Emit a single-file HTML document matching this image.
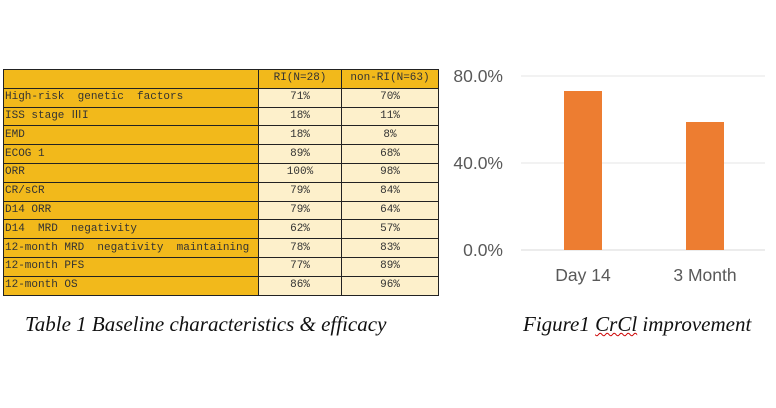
<!DOCTYPE html>
<html><head><style>
body{margin:0;width:776px;height:408px;background:#fff;position:relative;overflow:hidden}
table{position:absolute;left:3px;top:69px;border-collapse:collapse;font-family:"Liberation Mono","Noto Sans CJK SC",monospace;font-size:11px;color:#333;table-layout:fixed;width:436px}
td{height:17.8px;padding:0 1px;border:1.2px solid #222;line-height:17px;white-space:pre;overflow:hidden}
td.a{background:#f2b91b;width:252px}
td.b{background:#fdf0cb;text-align:center;width:80px}
td.c{background:#fdf0cb;text-align:center}
tr.h td{background:#f2b91b}
.cap{position:absolute;font-family:"Liberation Serif",serif;font-style:italic;font-size:21px;color:#111;white-space:nowrap}
.yl{position:absolute;right:273px;font-family:"Liberation Sans",sans-serif;font-size:17.5px;color:#595959}
.xl{position:absolute;font-family:"Liberation Sans",sans-serif;font-size:17.5px;color:#595959;width:120px;text-align:center}
</style></head><body>
<table>
<tr class="h"><td class="a"></td><td class="b">RI(N=28)</td><td class="c">non-RI(N=63)</td></tr>
<tr><td class="a">High-risk  genetic  factors</td><td class="b">71%</td><td class="c">70%</td></tr>
<tr><td class="a">ISS stage ⅢI</td><td class="b">18%</td><td class="c">11%</td></tr>
<tr><td class="a">EMD</td><td class="b">18%</td><td class="c">8%</td></tr>
<tr><td class="a">ECOG 1</td><td class="b">89%</td><td class="c">68%</td></tr>
<tr><td class="a">ORR</td><td class="b">100%</td><td class="c">98%</td></tr>
<tr><td class="a">CR/sCR</td><td class="b">79%</td><td class="c">84%</td></tr>
<tr><td class="a">D14 ORR</td><td class="b">79%</td><td class="c">64%</td></tr>
<tr><td class="a">D14  MRD  negativity</td><td class="b">62%</td><td class="c">57%</td></tr>
<tr><td class="a">12-month MRD  negativity  maintaining</td><td class="b">78%</td><td class="c">83%</td></tr>
<tr><td class="a">12-month PFS</td><td class="b">77%</td><td class="c">89%</td></tr>
<tr><td class="a">12-month OS</td><td class="b">86%</td><td class="c">96%</td></tr>
</table>
<div class="cap" style="left:25px;top:312px">Table 1 Baseline characteristics &amp; efficacy</div>
<div class="cap" style="left:523px;top:312px">Figure1 <span style="text-decoration:underline wavy #c00;text-decoration-thickness:1px">CrCl</span> improvement</div>
<svg style="position:absolute;left:0;top:0" width="776" height="408">
<line x1="521" y1="76" x2="765" y2="76" stroke="#e4e4e4"/>
<line x1="521" y1="163" x2="765" y2="163" stroke="#e4e4e4"/>
<line x1="521" y1="250" x2="765" y2="250" stroke="#d9d9d9"/>
<rect x="564" y="91" width="38" height="159" fill="#ed7d31"/>
<rect x="686" y="122" width="38" height="128" fill="#ed7d31"/>
</svg>
<div class="yl" style="top:66px">80.0%</div>
<div class="yl" style="top:153px">40.0%</div>
<div class="yl" style="top:240px">0.0%</div>
<div class="xl" style="left:523px;top:265px">Day 14</div>
<div class="xl" style="left:645px;top:265px">3 Month</div>
</body></html>
